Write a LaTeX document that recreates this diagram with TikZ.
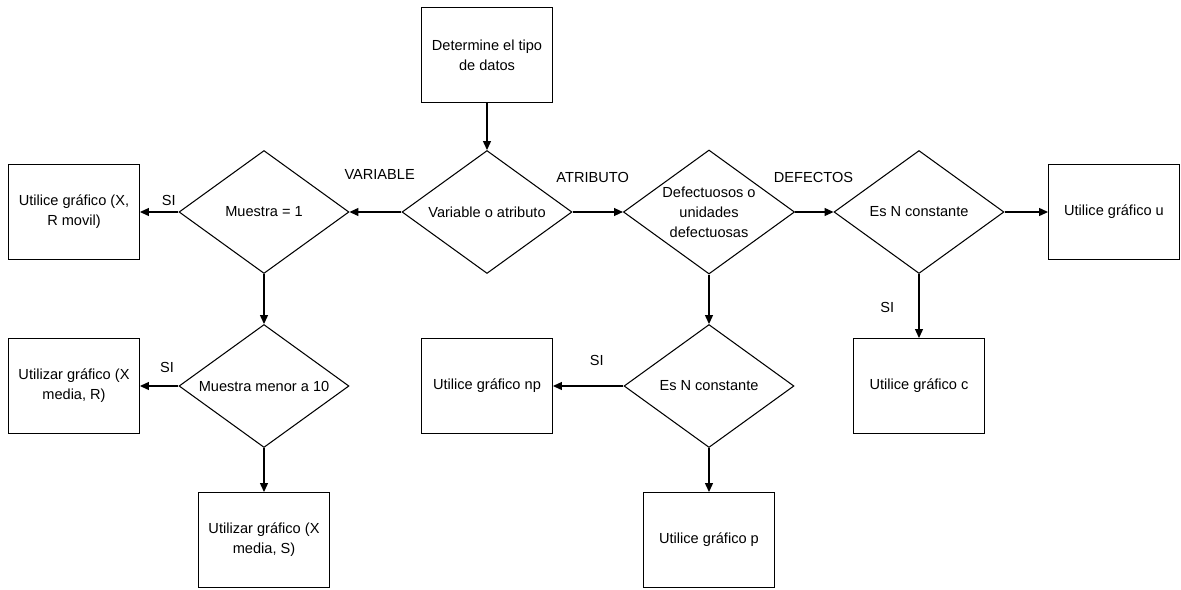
\documentclass[tikz,border=0pt]{standalone}
\usepackage{fontspec}
\setmainfont{Liberation Sans}
\usetikzlibrary{shapes.geometric,arrows.meta}

\begin{document}
\begin{tikzpicture}[
  x=0.02cm, y=-0.02cm,
  font=\fontsize{8.3}{11.3}\selectfont,
  line width=0.6pt,
  box/.style={draw, align=center, inner sep=2pt,
              minimum width=2.62cm, minimum height=1.9cm},
  decision/.style={draw, diamond, align=center, inner sep=1pt, aspect=1.38,
                   minimum width=3.4cm, minimum height=2.46cm},
  arr/.style={-{Triangle[length=5pt,width=4.5pt]}},
]
\useasboundingbox (0,0) rectangle (1181,589);

% ---------- Start ----------
\node[box]      (tipo)   at (487,55)  {Determine el tipo\\de datos};
\node[decision] (var)    at (487,212) {Variable o atributo};

% ---------- Variable branch ----------
\node[decision] (m1)     at (264,212) {Muestra = 1};
\node[box]      (rmovil) at (74,212)  {Utilice gráfico (X,\\R movil)};
\node[decision] (m10)    at (264,386) {Muestra menor a 10};
\node[box]      (xr)     at (74,386)  {Utilizar gráfico (X\\media, R)};
\node[box]      (xs)     at (264,540) {Utilizar gráfico (X\\media, S)};

% ---------- Atributo branch ----------
\node[decision] (defect) at (709,212) {Defectuosos o\\unidades\\defectuosas};
\node[decision] (esnu)   at (919,212) {Es N constante};
\node[box]      (gu)     at (1114,212) {Utilice gráfico u};
\node[box]      (gc)     at (919,386) {Utilice gráfico c};
\node[decision] (esnp)   at (709,386) {Es N constante};
\node[box]      (gnp)    at (487,386) {Utilice gráfico np};
\node[box]      (gp)     at (709,540) {Utilice gráfico p};

% ---------- Arrows ----------
\draw[arr] (tipo.south) -- (var.north);

\draw[arr] (var.west) -- (m1.east)
      node[pos=0.42, yshift=21.5pt] {VARIABLE};
\draw[arr] (m1.west) -- (rmovil.east)
      node[pos=0.25, yshift=6.8pt] {SI};
\draw[arr] (m1.south) -- (m10.north);
\draw[arr] (m10.west) -- (xr.east)
      node[pos=0.3, yshift=10.8pt] {SI};
\draw[arr] (m10.south) -- (xs.north);

\draw[arr] (var.east) -- (defect.west)
      node[pos=0.4, yshift=19.8pt] {ATRIBUTO};
\draw[arr] (defect.east) -- (esnu.west)
      node[pos=0.48, yshift=19.8pt] {DEFECTOS};
\draw[arr] (esnu.east) -- (gu.west);
\draw[arr] (esnu.south) -- (gc.north)
      node[pos=0.52, xshift=-18pt] {SI};
\draw[arr] (defect.south) -- (esnp.north);
\draw[arr] (esnp.west) -- (gnp.east)
      node[pos=0.38, yshift=14.7pt] {SI};
\draw[arr] (esnp.south) -- (gp.north);

\end{tikzpicture}
\end{document}
